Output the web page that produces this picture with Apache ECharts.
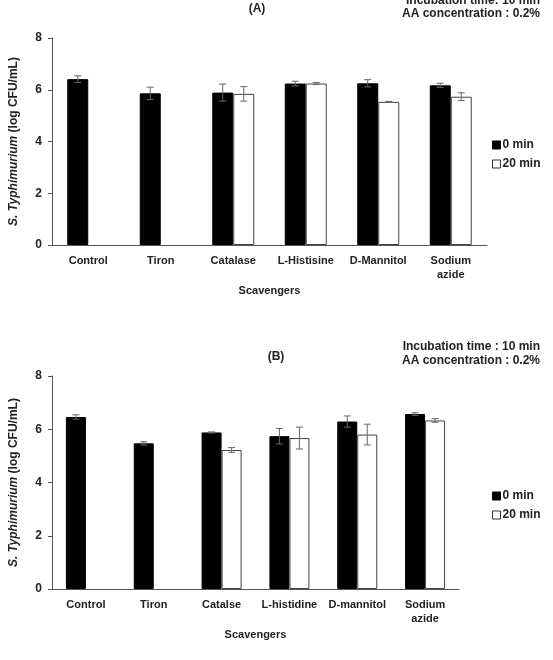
<!DOCTYPE html>
<html><head><meta charset="utf-8">
<script src="https://cdn.jsdelivr.net/npm/echarts@6/dist/echarts.min.js"></script>
<style>html,body{margin:0;padding:0;background:#fff}#c{width:553px;height:660px}</style>
</head><body><div id="c"></div>
<script>
const catsA = ['Control','Tiron','Catalase','L-Histisine','D-Mannitol','Sodium\nazide'];
const catsB = ['Control','Tiron','Catalse','L-histidine','D-mannitol','Sodium\nazide'];
const seriesNames = ['0 min','20 min'];
const a0 = [6.41, 5.86, 5.89, 6.24, 6.25, 6.17];
const a0err = [0.13, 0.24, 0.33, 0.09, 0.14, 0.08];
const a20 = [null, null, 5.84, 6.24, 5.53, 5.73];
const a20err = [null, null, 0.28, 0.04, 0.02, 0.15];
const b0 = [6.46, 5.47, 5.88, 5.74, 6.29, 6.57];
const b0err = [0.08, 0.06, 0.02, 0.29, 0.21, 0.05];
const b20 = [null, null, 5.22, 5.67, 5.80, 6.33];
const b20err = [null, null, 0.09, 0.41, 0.39, 0.07];
const yTicks = [0, 2, 4, 6, 8];

const FONT = '"Liberation Sans", Arial, sans-serif';
const TXT = '#222';
const AXC = '#555';

function errSeries(vals, errs, xi, yi, offset, name) {
  const data = vals.map((v, i) => v == null ? null : [i, v, errs[i]]).filter(d => d);
  return {
    type: 'custom', xAxisIndex: xi, yAxisIndex: yi, z: 10, silent: true,
    name: name + '_err',
    data: data,
    renderItem: function (params, api) {
      const x = api.value(0), y = api.value(1), e = api.value(2);
      const c = api.coord([x, y]);
      const hi = api.coord([x, y + e]);
      const lo = api.coord([x, y - e]);
      const cx = c[0] + offset;
      const hw = 3.5;
      const st = { stroke: '#666', lineWidth: 1 };
      return { type: 'group', children: [
        { type: 'line', shape: { x1: cx, y1: hi[1], x2: cx, y2: lo[1] }, style: st },
        { type: 'line', shape: { x1: cx - hw, y1: hi[1], x2: cx + hw, y2: hi[1] }, style: st },
        { type: 'line', shape: { x1: cx - hw, y1: lo[1], x2: cx + hw, y2: lo[1] }, style: st }
      ]};
    }
  };
}

function xAx(cats, gi) {
  return {
    type: 'category', gridIndex: gi, data: cats,
    axisLine: { lineStyle: { color: AXC, width: 1 } },
    axisTick: { lineStyle: { color: AXC }, length: 4 },
    axisLabel: { color: TXT, fontFamily: FONT, fontWeight: 'bold', fontSize: 11, margin: 9, lineHeight: 14, interval: 0 },
    name: 'Scavengers', nameLocation: 'middle', nameGap: 40,
    nameTextStyle: { color: TXT, fontFamily: FONT, fontWeight: 'bold', fontSize: 11 }
  };
}
function yAx(gi) {
  return {
    type: 'value', gridIndex: gi, min: yTicks[0], max: yTicks[yTicks.length - 1], interval: 2,
    splitLine: { show: false },
    axisLine: { show: true, lineStyle: { color: AXC } },
    axisTick: { show: true, length: 4, lineStyle: { color: AXC } },
    axisLabel: { color: TXT, fontFamily: FONT, fontWeight: 'bold', fontSize: 12, margin: 10 },
    name: '{i|S. Typhimurium} {n|(log CFU/mL)}', nameLocation: 'middle', nameRotate: 90, nameGap: 32,
    nameTextStyle: { rich: {
      i: { fontStyle: 'italic', fontWeight: 'bold', fontFamily: FONT, fontSize: 12, color: TXT },
      n: { fontWeight: 'bold', fontFamily: FONT, fontSize: 12, color: TXT }
    } }
  };
}
function bars(vals, xi, yi, name, bw) {
  const black = name === seriesNames[0];
  return {
    type: 'bar', name: name, xAxisIndex: xi, yAxisIndex: yi, data: vals,
    barWidth: bw, barGap: '0%',
    itemStyle: { color: black ? '#000' : '#fff', borderColor: black ? '#000' : '#444', borderWidth: 1 }
  };
}
function legend(top) {
  return {
    data: [ { name: seriesNames[0], icon: 'rect', itemStyle: { color: '#000', borderColor: '#000', borderWidth: 1 } },
            { name: seriesNames[1], icon: 'rect', itemStyle: { color: '#fff', borderColor: '#333', borderWidth: 1 } } ],
    orient: 'vertical', left: 487, top: top, itemWidth: 8, itemHeight: 8, itemGap: 7,
    selectedMode: false,
    textStyle: { color: TXT, fontFamily: FONT, fontWeight: 'bold', fontSize: 12, padding: [0, 0, 0, -3] }
  };
}
function txt(x, y, s, align) {
  return { type: 'text', x: x, y: y, style: { text: s, fill: TXT, font: 'bold 12px ' + FONT, textAlign: align || 'right', textVerticalAlign: 'middle' } };
}

const chart = echarts.init(document.getElementById('c'), null, { renderer: 'canvas' });
chart.setOption({
  animation: false,
  backgroundColor: '#fff',
  grid: [
    { left: 49, top: 38, width: 438, height: 207 },
    { left: 49, top: 376, width: 410, height: 213 }
  ],
  xAxis: [xAx(catsA, 0), xAx(catsB, 1)],
  yAxis: [yAx(0), yAx(1)],
  legend: [legend(134), legend(485)],
  series: [
    bars(a0, 0, 0, seriesNames[0], 21),
    bars(a20, 0, 0, seriesNames[1], 21),
    bars(b0, 1, 1, seriesNames[0], 20),
    bars(b20, 1, 1, seriesNames[1], 20),
    errSeries(a0, a0err, 0, 0, -10.5, 'a0'),
    errSeries(a20, a20err, 0, 0, 10.5, 'a20'),
    errSeries(b0, b0err, 1, 1, -10, 'b0'),
    errSeries(b20, b20err, 1, 1, 10, 'b20')
  ],
  graphic: [
    txt(257, 9, '(A)', 'center'),
    txt(540, 1, 'Incubation time: 10 min'),
    txt(540, 14, 'AA concentration : 0.2%'),
    txt(276, 357, '(B)', 'center'),
    txt(540, 347, 'Incubation time : 10 min'),
    txt(540, 361, 'AA concentration : 0.2%')
  ]
});
</script></body></html>
